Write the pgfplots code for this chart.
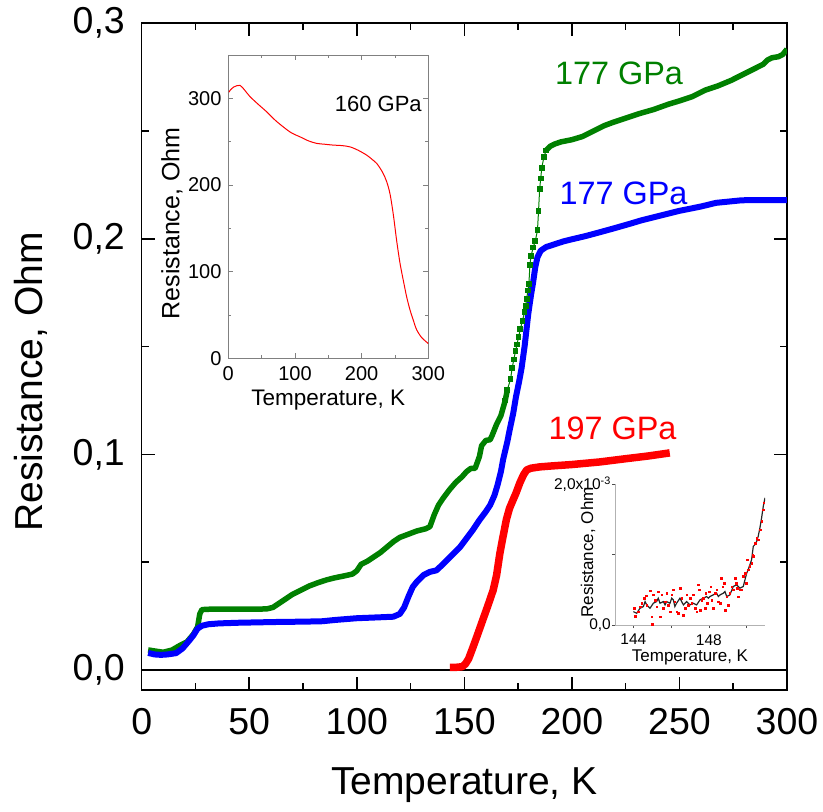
\documentclass[border=0pt]{standalone}
\usepackage{fontspec}
\setmainfont{Liberation Sans}
\usepackage{pgfplots}
\pgfplotsset{compat=1.18}
\definecolor{cgreen}{RGB}{0,128,0}
\definecolor{cblue}{RGB}{0,0,255}
\definecolor{cred}{RGB}{255,0,0}
\begin{document}
\begin{tikzpicture}
\useasboundingbox (-141.7pt,-122pt) rectangle (681.3pt,690pt);
% ---------------- main axis ----------------
\begin{axis}[
  at={(0pt,0pt)}, anchor=south west,
  scale only axis, width=645.3pt, height=666.7pt,
  xmin=0, xmax=300, ymin=-0.0093, ymax=0.3,
  xtick={0,50,100,150,200,250,300}, xticklabels={0,50,100,150,200,250,300},
  ytick={0,0.1,0.2,0.3}, yticklabels={{0,0},{0,1},{0,2},{0,3}},
  minor x tick num=1, minor y tick num=1,
  major tick length=13pt, minor tick length=7pt,
  tick style={black, line width=1.5pt},
  axis line style={line width=1.6pt},
  tick label style={font=\fontsize{37.5}{40}\selectfont, inner sep=0pt},
  xticklabel style={yshift=-18pt},
  yticklabel style={xshift=-16.7pt},
  scaled y ticks=false,
  xlabel={Temperature, K}, ylabel={Resistance, Ohm},
  label style={font=\fontsize{39}{42}\selectfont},
  xlabel style={at={(axis description cs:0.5,-0.1425)}, anchor=center},
  ylabel style={at={(axis description cs:-0.1715,0.462)}, anchor=center},
]
\addplot[black, line width=1.7pt] coordinates {(0,0) (300,0)};
% green 177 GPa
\addplot[cgreen, line width=5.5pt, line join=round] coordinates {
(3,0.0093) (6,0.0088) (10,0.0082) (14,0.0092) (18,0.0115) (21,0.0130) (24,0.0165)
(26,0.0200) (27,0.0260) (28,0.0280) (32,0.0282) (40,0.0282) (50,0.0282) (58,0.0283)
(61,0.0290) (64,0.0310) (67,0.0330) (70,0.0350) (74,0.0370) (78,0.0390) (82,0.0405)
(86,0.0418) (90,0.0428) (94,0.0436) (98,0.0445) (100,0.0460) (102,0.0490) (105,0.0505)
(108,0.0525) (111,0.0545) (114,0.0570) (117,0.0595) (120,0.0615) (124,0.0630) (128,0.0645)
(132,0.0655) (134,0.0665) (136,0.0720) (138,0.0765) (140,0.0795) (143,0.0835) (146,0.0870)
(149,0.0897) (151,0.0920) (153,0.0935) (155,0.0935) (157,0.0990) (158,0.1040) (160,0.1065)
(162,0.1068) (163,0.1090) (165,0.1140) (167,0.1180) (169,0.1250) (170,0.1300)};
\addplot[cgreen, line width=1pt, mark=square*, mark size=2.4pt] coordinates {
(169,0.1250) (170,0.1300) (171.5,0.1350) (172.2,0.1400) (173,0.1440) (173.8,0.1480)
(174.5,0.1510) (175.2,0.1545) (176,0.1580) (177,0.1620) (178,0.1660) (178.5,0.1690)
(179,0.1720) (179.5,0.1760) (180,0.1790) (180.5,0.1880) (181,0.1920) (182,0.1960)
(183,0.1990) (184,0.2040) (184.5,0.2130) (185,0.2230) (185.5,0.2280) (186,0.2330)
(187,0.2380) (188,0.2410)};
\addplot[cgreen, line width=5.5pt, line join=round] coordinates {
(188,0.2410) (190,0.2430) (192,0.2440) (195,0.2450) (200,0.2460) (205,0.2475) (208,0.2490)
(211,0.2505) (215,0.2525) (219,0.2540) (225,0.2560) (231,0.2580) (238,0.2600) (245,0.2625)
(250,0.2640) (256,0.2660) (262,0.2690) (268,0.2710) (274,0.2735) (280,0.2765) (285,0.2790)
(289,0.2810) (291,0.2830) (293,0.2840) (296,0.2845) (298,0.2855) (300,0.2880)};
% blue 177 GPa
\addplot[cblue, line width=6pt, line join=round] coordinates {
(3,0.0079) (6,0.0072) (9,0.0070) (12,0.0072) (16,0.0078) (19,0.0100) (22,0.0135)
(24,0.0160) (26,0.0192) (28,0.0205) (31,0.0212) (36,0.0216) (45,0.0219) (55,0.0221)
(65,0.0223) (75,0.0224) (84,0.0226) (90,0.0232) (100,0.0240) (110,0.0244) (117,0.0247)
(120,0.0260) (122,0.0290) (124,0.0340) (126,0.0385) (128,0.0410) (131,0.0440) (134,0.0455)
(137,0.0462) (140,0.0490) (142,0.0510) (145,0.0540) (148,0.0570) (151,0.0610) (154,0.0650)
(157,0.0695) (160,0.0735) (162,0.0765) (164,0.0810) (165.5,0.0860) (167,0.0920) (168,0.0975)
(170,0.1060) (171,0.1110) (172.7,0.1190) (174,0.1267) (175.5,0.1340) (176.6,0.1400)
(178,0.1500) (179.7,0.1650) (181,0.1740) (182,0.1800) (183,0.1870) (184,0.1915)
(185.5,0.1945) (188,0.1962) (192,0.1975) (196,0.1988) (200,0.1998) (206,0.2012)
(212,0.2028) (220,0.2050) (227,0.2070) (232,0.2085) (240,0.2105) (250,0.2130)
(260,0.2150) (267,0.2167) (272,0.2172) (278,0.2178) (282,0.2180) (290,0.2180) (300,0.2180)};
% red 197 GPa
\addplot[cred, line width=7.5pt, line join=round] coordinates {
(143.3,0.0012) (146,0.0012) (149,0.0015) (150.5,0.0028) (152,0.0052) (154,0.0105)
(156,0.0160) (158.5,0.0230) (161,0.0300) (163.4,0.0370) (165,0.0440) (166.5,0.0540)
(168,0.0620) (169.6,0.0700) (171,0.0750) (172.7,0.0790) (174,0.0820) (175.8,0.0868)
(177.5,0.0905) (179,0.0928) (181,0.0936) (185,0.0942) (190,0.0946) (200,0.0953)
(213,0.0965) (225,0.0980) (235,0.0992) (245.5,0.1007)};
\end{axis}
\node[cgreen, font=\fontsize{32.4}{34}\selectfont, inner sep=0pt] at (477.3pt,617pt) {177 GPa};
\node[cblue, font=\fontsize{32.4}{34}\selectfont, inner sep=0pt] at (481.8pt,496.5pt) {177 GPa};
\node[cred, font=\fontsize{32.4}{34}\selectfont, inner sep=0pt] at (470.8pt,261.5pt) {197 GPa};
% ---------------- inset 1 ----------------
\begin{axis}[
  at={(86.6pt,331.7pt)}, anchor=south west,
  scale only axis, width=200pt, height=303.3pt,
  xmin=0, xmax=300, ymin=0, ymax=350,
  xtick={0,100,200,300}, xticklabels={0,100,200,300},
  ytick={0,100,200,300}, yticklabels={0,100,200,300},
  minor x tick num=1, minor y tick num=1,
  major tick length=5pt, minor tick length=3pt,
  axis line style={gray, line width=0.8pt},
  tick style={gray, line width=0.8pt},
  tick label style={font=\fontsize{20}{22}\selectfont, inner sep=0pt},
  xticklabel style={yshift=-7.6pt},
  yticklabel style={xshift=-6.6pt},
  xlabel={Temperature, K}, ylabel={Resistance, Ohm},
  xlabel style={font=\fontsize{22.5}{24}\selectfont, at={(axis description cs:0.5,-0.1375)}, anchor=center},
  ylabel style={font=\fontsize{25}{27}\selectfont, at={(axis description cs:-0.2815,0.4445)}, anchor=center},
]
\addplot[cred, line width=1pt, smooth] coordinates {
(1,307) (2.5,309) (8,313) (17.5,315) (25,309) (32.5,302) (45,293) (57.5,284.5) (70,275)
(82.5,267) (95,260) (107.5,255.6) (120,251) (132.5,248) (145,247) (157.5,246) (170,245.5)
(182.5,244) (195,240) (207.5,234.5) (215,230) (222.5,225) (228,219) (232.5,213) (237.5,204)
(242.5,190) (247.5,166) (252.5,136) (257.5,110) (262.5,90) (267.5,71) (272.5,56) (277.5,44)
(282.5,33) (290,24) (300,17)};
\node[font=\fontsize{22}{24}\selectfont, inner sep=0pt] at (rel axis cs:0.75,0.838) {160 GPa};
\end{axis}
% ---------------- inset 2 ----------------
\begin{axis}[
  at={(473.3pt,65pt)}, anchor=south west,
  scale only axis, width=150pt, height=141pt,
  xmin=143.03, xmax=150.97, ymin=0, ymax=0.002,
  axis x line*=bottom, axis y line*=left,
  xtick={144,148}, xticklabels={144,148}, minor xtick={146,150},
  ytick={0,0.002}, yticklabels={{0,0},{2,0x10\textsuperscript{-3}}}, minor ytick={0.001},
  scaled y ticks=false,
  tick align=outside, major tick length=3pt, minor tick length=3pt,
  axis line style={gray!60, line width=1pt},
  tick style={black!70, line width=0.7pt},
  tick label style={font=\fontsize{15.5}{17}\selectfont, inner sep=0pt},
  xticklabel style={yshift=-6pt},
  yticklabel style={xshift=-1pt},
  xlabel={Temperature, K}, ylabel={Resistance, Ohm},
  label style={font=\fontsize{17}{19}\selectfont},
  xlabel style={at={(axis description cs:0.5,-0.232)}, anchor=center},
  ylabel style={at={(axis description cs:-0.18,0.514)}, anchor=center},
]
\addplot[black!85, line width=1.2pt] coordinates {
(144.00,0.000190) (144.18,0.000166) (144.35,0.000237) (144.53,0.000261) (144.62,0.000332)
(144.71,0.000285) (144.88,0.000237) (145.06,0.000309) (145.23,0.000332) (145.32,0.000380)
(145.41,0.000309) (145.59,0.000332) (145.68,0.000285) (145.76,0.000332) (145.94,0.000309)
(146.03,0.000380) (146.12,0.000356) (146.20,0.000261) (146.29,0.000309) (146.47,0.000380)
(146.56,0.000332) (146.65,0.000285) (146.82,0.000332) (147.00,0.000285) (147.17,0.000309)
(147.35,0.000285) (147.53,0.000356) (147.70,0.000380) (147.88,0.000404) (147.97,0.000380)
(148.06,0.000404) (148.23,0.000427) (148.41,0.000451) (148.50,0.000404) (148.59,0.000427)
(148.76,0.000451) (148.85,0.000475) (148.94,0.000404) (149.11,0.000427) (149.29,0.000546)
(149.47,0.000570) (149.64,0.000522) (149.82,0.000546) (149.91,0.000641) (150.00,0.000736)
(150.08,0.000783) (150.17,0.000855) (150.26,0.000926) (150.35,0.001116) (150.44,0.001140)
(150.53,0.001187) (150.61,0.001258) (150.70,0.001377) (150.79,0.001519) (150.88,0.001686)
(150.97,0.001804)};
\addplot[only marks, mark=square*, mark size=0.8pt, cred, mark options={draw=none}] coordinates {
(144.04,0.000237) (144.09,0.000128) (144.26,0.000190) (144.35,0.000261) (144.44,0.000309)
(144.56,0.000380) (144.67,0.000413) (144.71,0.000285) (144.88,0.000489) (144.97,0.000119)
(145.01,0.000014) (145.06,0.000427) (145.15,0.000356) (145.23,0.000261) (145.32,0.000475)
(145.41,0.000119) (145.50,0.000427) (145.59,0.000237) (145.68,0.000332) (145.76,0.000451)
(145.85,0.000285) (145.94,0.000190) (146.03,0.000427) (146.12,0.000499) (146.20,0.000332)
(146.29,0.000190) (146.38,0.000166) (146.47,0.000522) (146.56,0.000380) (146.65,0.000142)
(146.73,0.000237) (146.82,0.000427) (146.91,0.000285) (147.00,0.000380) (147.09,0.000309)
(147.17,0.000427) (147.26,0.000237) (147.35,0.000190) (147.44,0.000570) (147.49,0.000499)
(147.53,0.000214) (147.62,0.000356) (147.70,0.000380) (147.79,0.000237) (147.84,0.000451)
(147.92,0.000309) (148.02,0.000475) (148.09,0.000546) (148.14,0.000356) (148.23,0.000237)
(148.32,0.000451) (148.41,0.000499) (148.50,0.000332) (148.59,0.000309) (148.64,0.000665)
(148.73,0.000546) (148.80,0.000594) (148.85,0.000214) (148.94,0.000404) (149.03,0.000285)
(149.11,0.000451) (149.20,0.000546) (149.29,0.000499) (149.38,0.000665) (149.43,0.000594)
(149.50,0.000522) (149.56,0.000404) (149.64,0.000499) (149.73,0.000499) (149.82,0.000689)
(149.91,0.000736) (149.96,0.000594) (150.03,0.000926) (150.08,0.000783) (150.17,0.000831)
(150.26,0.000878) (150.31,0.000997) (150.35,0.000973) (150.44,0.001163) (150.53,0.001235)
(150.61,0.001211) (150.70,0.001353) (150.79,0.001472) (150.88,0.001638) (150.91,0.001733)};
\end{axis}
\end{tikzpicture}
\end{document}
